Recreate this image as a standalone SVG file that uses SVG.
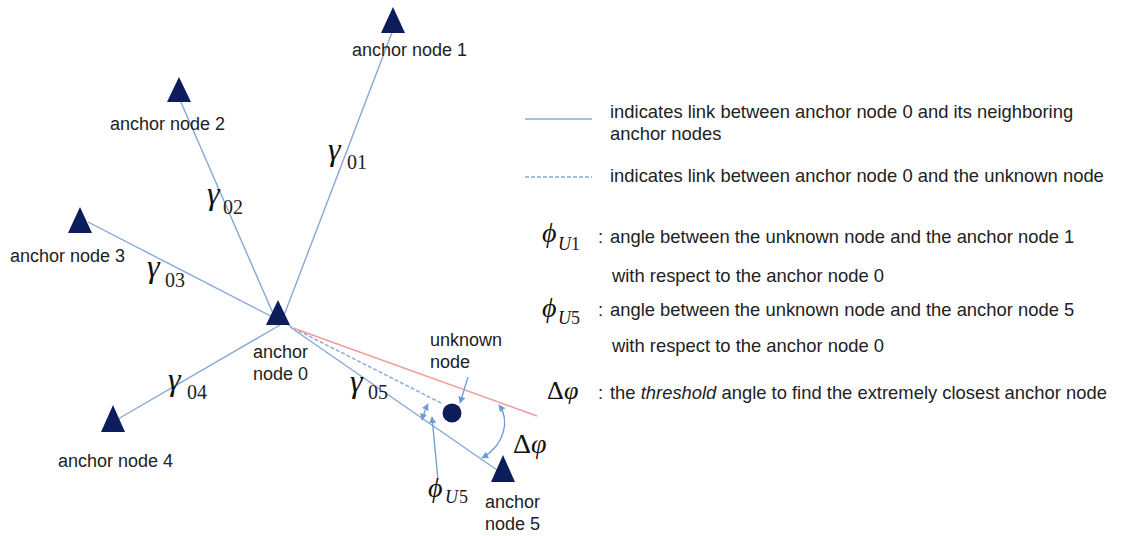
<svg xmlns="http://www.w3.org/2000/svg" width="1121" height="536" viewBox="0 0 1121 536">
<style>
.lbl{font-family:"Liberation Sans",Arial,sans-serif;font-size:18px;fill:#222}
.leg{font-family:"Liberation Sans",Arial,sans-serif;font-size:18.4px;fill:#222}
.g{font-family:"Liberation Serif","Times New Roman",serif;font-style:italic;font-size:32px;fill:#111}
.sub{font-family:"Liberation Serif","Times New Roman",serif;font-size:20px;fill:#222}
.sm{font-family:"Liberation Serif","Times New Roman",serif;font-size:18px;fill:#222}
.m{font-family:"Liberation Serif","DejaVu Serif","Times New Roman",serif;font-style:italic;fill:#111}
.up{font-family:"Liberation Serif","DejaVu Serif","Times New Roman",serif;font-style:normal;fill:#111}
.link{stroke:#86a8d8;stroke-width:1.4;fill:none}
.dash{stroke:#86a8d8;stroke-width:1.4;stroke-dasharray:4 2;fill:none}
.red{stroke:#f29a9a;stroke-width:1.4;fill:none}
.arr{stroke:#6e9bd6;stroke-width:1.3;fill:none}
.tri{fill:#0d1d5c}
</style>
<defs>
<marker id="ah" viewBox="0 0 10 10" refX="9" refY="5" markerWidth="7" markerHeight="7" markerUnits="userSpaceOnUse" orient="auto-start-reverse">
<path d="M0,0 L10,5 L0,10 z" fill="#6e9bd6"/>
</marker>
</defs>
<rect width="1121" height="536" fill="#fff"/>
<g id="connectors">
<line class="link" x1="283" y1="318" x2="393" y2="30"/>
<line class="link" x1="275" y1="318" x2="180" y2="100"/>
<line class="link" x1="292" y1="327" x2="88" y2="222"/>
<line class="link" x1="280" y1="325" x2="118" y2="419"/>
<line class="link" x1="290" y1="327" x2="497" y2="470"/>
<line class="dash" x1="293" y1="328" x2="443" y2="404"/>
<line class="red" x1="293" y1="328" x2="537" y2="416"/>
<line class="arr" x1="468" y1="377" x2="460" y2="403" marker-end="url(#ah)"/>
<path class="arr" d="M422,420 Q424,412 428,404" marker-start="url(#ah)" marker-end="url(#ah)"/>
<line class="arr" x1="438" y1="480" x2="432" y2="417" marker-end="url(#ah)"/>
<path class="arr" d="M499,405 C510,420 505,445 482,458" marker-start="url(#ah)" marker-end="url(#ah)"/>
</g>
<g id="labels-gamma">
<text class="g" x="328" y="160">γ</text><text class="sub" x="347" y="169">01</text>
<text class="g" x="207" y="204">γ</text><text class="sub" x="223" y="214">02</text>
<text class="g" x="147" y="277">γ</text><text class="sub" x="165" y="287">03</text>
<text class="g" x="168" y="390">γ</text><text class="sub" x="187" y="399">04</text>
<text class="g" x="350" y="392">γ</text><text class="sub" x="368" y="399">05</text>
<text class="m" x="428" y="497" font-size="28">ϕ</text><text class="m" x="445" y="503" font-size="18">U</text><text class="sm" x="459" y="503">5</text>
<text class="up" x="513" y="453" font-size="28">Δ</text><text class="m" x="531" y="453" font-size="28">φ</text>
</g>
<g id="node1"><polygon class="tri" points="393,7 405,33 381,33"/><text class="lbl" x="352" y="56">anchor node 1</text></g>
<g id="node2"><polygon class="tri" points="179,77 191,102 167,102"/><text class="lbl" x="110" y="130">anchor node 2</text></g>
<g id="node3"><polygon class="tri" points="80,207 92,233 68,233"/><text class="lbl" x="10" y="262">anchor node 3</text></g>
<g id="node0"><polygon class="tri" points="278,300 290,325 266,325"/><text class="lbl" x="253" y="358">anchor</text><text class="lbl" x="253" y="380">node 0</text></g>
<g id="node4"><polygon class="tri" points="113,405 125,432 101,432"/><text class="lbl" x="58" y="467">anchor node 4</text></g>
<g id="node5"><polygon class="tri" points="503,455 515,482 491,482"/><text class="lbl" x="485" y="508">anchor</text><text class="lbl" x="485" y="530">node 5</text></g>
<g id="unknown"><circle cx="452" cy="413" r="9.5" fill="#0d1d5c"/><text class="lbl" x="430" y="346">unknown</text><text class="lbl" x="430" y="368">node</text></g>
<g id="legend">
<line class="link" x1="525" y1="119" x2="592" y2="119"/>
<text class="leg" x="610" y="118">indicates link between anchor node 0 and its neighboring</text>
<text class="leg" x="610" y="140">anchor nodes</text>
<line class="dash" x1="525" y1="177" x2="592" y2="177" stroke-dasharray="2 1.5"/>
<text class="leg" x="610" y="182">indicates link between anchor node 0 and the unknown node</text>
<text class="m" x="542" y="242" font-size="28">ϕ</text><text class="m" x="558" y="250" font-size="18">U</text><text class="sm" x="571" y="250">1</text>
<text class="leg" x="598" y="243">:</text>
<text class="leg" x="610" y="243">angle between the unknown node and the anchor node 1</text>
<text class="leg" x="612" y="282">with respect to the anchor node 0</text>
<text class="m" x="542" y="317" font-size="28">ϕ</text><text class="m" x="558" y="324" font-size="18">U</text><text class="sm" x="571" y="324">5</text>
<text class="leg" x="598" y="316">:</text>
<text class="leg" x="610" y="316">angle between the unknown node and the anchor node 5</text>
<text class="leg" x="612" y="352">with respect to the anchor node 0</text>
<text class="up" x="547" y="399" font-size="26">Δ</text><text class="m" x="564" y="399" font-size="26">φ</text>
<text class="leg" x="598" y="399">:</text>
<text class="leg" x="610" y="399">the <tspan font-style="italic">threshold</tspan> angle to find the extremely closest anchor node</text>
</g>
</svg>
